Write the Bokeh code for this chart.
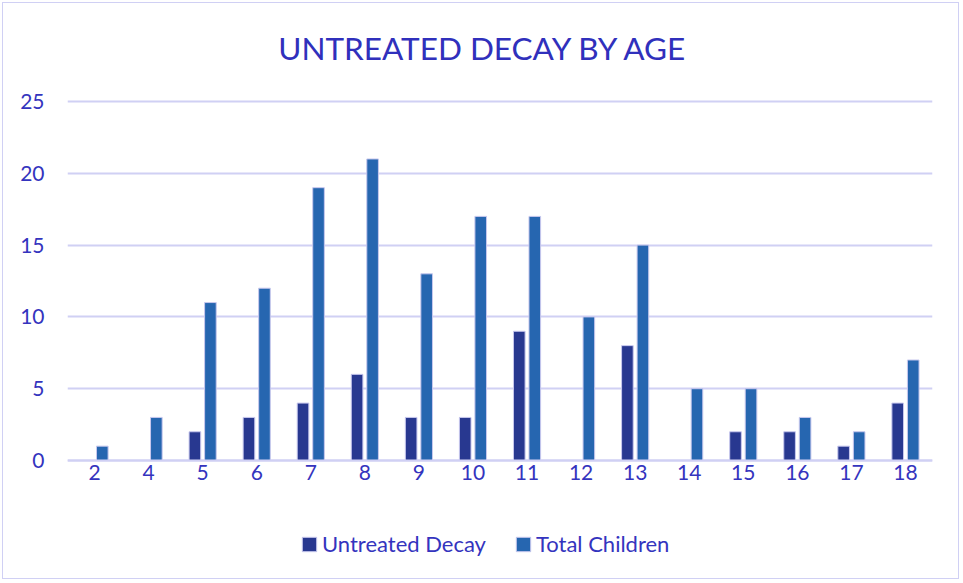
from bokeh.plotting import figure
from bokeh.models import FactorRange, Range1d, Legend, LegendItem, Label, ColumnDataSource, FixedTicker
from bokeh.transform import dodge
from bokeh.embed import file_html
from bokeh.resources import INLINE

ages = ["2", "4", "5", "6", "7", "8", "9", "10", "11", "12", "13", "14", "15", "16", "17", "18"]
untreated = [0, 0, 2, 3, 4, 6, 3, 3, 9, 0, 8, 0, 2, 2, 1, 4]
total = [1, 3, 11, 12, 19, 21, 13, 17, 17, 10, 15, 5, 5, 3, 2, 7]
y_ticks = [0, 5, 10, 15, 20, 25]

TEXT = "#3434BE"
GRID = "#D0D0F4"
NAVY = "#283890"
BLUE = "#2666B0"
FONT = "Lato"

src = ColumnDataSource(dict(age=ages, untreated=untreated, total=total))

# frame spans the plot area plus the strips above/below it (title, tick labels, legend)
p = figure(width=957, height=577, output_backend="svg", toolbar_location=None,
           x_range=FactorRange(*ages), y_range=Range1d(-6.825, 31.13),
           min_border_left=64, min_border_right=28, min_border_top=10, min_border_bottom=22)
p.styles = {"border": "1px solid #D0D0F4", "margin-left": "2px", "margin-top": "2px"}
p.x_range.range_padding = 0
p.outline_line_color = None
p.background_fill_color = "white"
p.border_fill_color = "white"

title = Label(x=416, y=511, x_units="screen", y_units="screen", text="UNTREATED DECAY BY AGE",
              text_align="center", text_baseline="middle", text_color="#3030BC",
              text_font=FONT, text_font_size="31.5px")
p.add_layout(title)

r1 = p.vbar(x=dodge("age", -0.1435, range=p.x_range), top="untreated", width=0.215, source=src,
            fill_color=NAVY, line_color="#C8C8EE", line_width=1)
r2 = p.vbar(x=dodge("age", 0.1435, range=p.x_range), top="total", width=0.215, source=src,
            fill_color=BLUE, line_color="#C8C8EE", line_width=1)

p.xgrid.grid_line_color = None
p.ygrid.grid_line_color = GRID
p.ygrid.grid_line_width = 2
p.yaxis.ticker = FixedTicker(ticks=y_ticks)

for ax in (p.xaxis[0], p.yaxis[0]):
    ax.major_tick_line_color = None
    ax.minor_tick_line_color = None
    ax.major_tick_out = 0
    ax.major_tick_in = 0
    ax.major_label_text_color = TEXT
    ax.major_label_text_font = FONT
    ax.major_label_text_font_size = "21px"
p.yaxis.axis_line_color = None
p.yaxis.major_label_standoff = 23
p.xaxis.fixed_location = 0
p.xaxis.axis_line_color = GRID
p.xaxis.axis_line_width = 2
p.xaxis.major_label_standoff = 5

legend = Legend(items=[LegendItem(label="Untreated Decay", renderers=[r1]),
                       LegendItem(label="Total Children", renderers=[r2])],
                orientation="horizontal", location=(233, 1),
                glyph_width=18, glyph_height=18, label_height=18, label_standoff=4, spacing=28,
                padding=0, margin=0, border_line_color=None, background_fill_alpha=0,
                label_text_color=TEXT, label_text_font=FONT, label_text_font_size="22px")
p.add_layout(legend)

open("out.html", "w").write(file_html(p, INLINE))
